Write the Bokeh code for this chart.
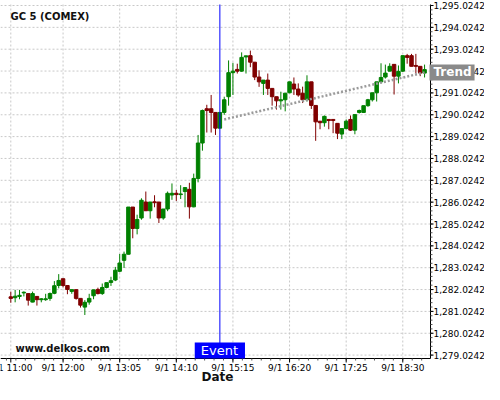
import math
import pandas as pd
from bokeh.plotting import figure
from bokeh.models import Range1d, Label, ColumnDataSource
from bokeh.core.properties import value
from bokeh.embed import file_html
from bokeh.resources import INLINE

# ---------------- data ----------------
symbol = "GC 5 (COMEX)"
watermark = "www.delkos.com"
start_time = "2014-09-01 11:00"
bar_minutes = 5

opens = [1281.69, 1281.65, 1281.71, 1281.87, 1281.84, 1281.45, 1281.71, 1281.56, 1281.56, 1281.62,
         1281.85, 1282.21, 1282.52, 1282.21, 1281.94, 1282.02, 1281.62, 1281.22, 1281.45, 1281.74,
         1282.03, 1281.84, 1282.12, 1282.35, 1282.46, 1282.86, 1283.36, 1283.64, 1285.80, 1284.82,
         1285.30, 1286.03, 1285.63, 1286.04, 1286.03, 1285.30, 1285.71, 1286.35, 1286.43, 1286.37,
         1286.51, 1286.61, 1285.81, 1287.11, 1288.73, 1290.30, 1290.30, 1290.13, 1289.41, 1290.13,
         1290.85, 1291.95, 1292.10, 1292.02, 1292.67, 1292.73, 1292.43, 1291.75, 1291.46, 1291.61,
         1291.23, 1290.85, 1290.66, 1290.71, 1291.03, 1291.43, 1291.20, 1291.01, 1290.71, 1291.53,
         1290.45, 1289.73, 1289.66, 1289.81, 1289.81, 1289.63, 1289.14, 1289.39, 1289.81, 1289.32,
         1290.13, 1290.13, 1290.44, 1290.71, 1291.03, 1291.53, 1291.75, 1292.02, 1292.33, 1291.79,
         1292.02, 1292.73, 1292.73, 1292.28, 1292.24, 1291.93]
highs = [1281.93, 1282.01, 1282.01, 1281.94, 1281.84, 1281.93, 1281.71, 1281.63, 1281.83, 1281.89,
         1282.41, 1282.73, 1282.52, 1282.21, 1282.02, 1282.02, 1281.62, 1281.54, 1281.83, 1282.01,
         1282.11, 1282.30, 1282.34, 1282.61, 1283.06, 1283.65, 1283.76, 1285.80, 1285.80, 1285.45,
         1286.20, 1286.51, 1286.03, 1286.34, 1286.03, 1285.71, 1286.51, 1286.88, 1286.58, 1286.80,
         1286.69, 1286.91, 1287.33, 1289.10, 1290.26, 1290.48, 1290.93, 1290.13, 1290.13, 1290.85,
         1292.51, 1292.40, 1292.36, 1292.88, 1292.72, 1292.96, 1292.43, 1292.06, 1291.61, 1291.91,
         1291.23, 1290.85, 1291.08, 1291.01, 1291.53, 1291.73, 1291.46, 1291.31, 1291.83, 1291.53,
         1290.45, 1289.73, 1289.99, 1289.81, 1289.81, 1289.63, 1289.39, 1289.81, 1289.99, 1290.03,
         1290.26, 1290.44, 1290.75, 1291.03, 1291.53, 1292.38, 1292.32, 1292.38, 1292.33, 1292.28,
         1292.73, 1292.81, 1292.81, 1292.81, 1292.24, 1292.32]
lows = [1281.42, 1281.44, 1281.58, 1281.71, 1281.29, 1281.44, 1281.29, 1281.44, 1281.51, 1281.51,
        1281.81, 1282.08, 1282.12, 1281.81, 1281.83, 1281.56, 1281.20, 1280.86, 1281.33, 1281.58,
        1281.80, 1281.78, 1282.08, 1282.19, 1282.41, 1282.82, 1283.01, 1283.63, 1284.37, 1284.55,
        1285.22, 1285.62, 1285.27, 1285.79, 1285.07, 1285.22, 1285.61, 1286.13, 1286.08, 1286.17,
        1285.79, 1285.27, 1285.79, 1286.93, 1288.38, 1289.21, 1289.21, 1289.10, 1289.41, 1290.02,
        1290.44, 1290.93, 1291.91, 1291.99, 1291.91, 1292.20, 1291.61, 1291.30, 1290.93, 1290.93,
        1290.44, 1290.26, 1290.26, 1290.18, 1291.01, 1290.93, 1290.85, 1290.56, 1290.63, 1290.29,
        1288.83, 1289.36, 1289.48, 1289.36, 1289.18, 1288.91, 1288.91, 1289.36, 1289.28, 1289.13,
        1290.08, 1290.11, 1290.39, 1290.63, 1290.63, 1291.48, 1291.68, 1292.02, 1290.95, 1291.46,
        1291.98, 1292.36, 1292.24, 1291.91, 1291.79, 1291.73]
closes = [1281.62, 1281.72, 1281.76, 1281.90, 1281.54, 1281.84, 1281.56, 1281.60, 1281.60, 1281.84,
          1282.20, 1282.44, 1282.21, 1282.03, 1282.02, 1281.62, 1281.31, 1281.44, 1281.62, 1282.01,
          1281.84, 1282.12, 1282.34, 1282.43, 1282.91, 1283.24, 1283.64, 1285.80, 1284.82, 1285.23,
          1286.11, 1285.63, 1286.03, 1286.00, 1285.30, 1285.71, 1286.43, 1286.43, 1286.37, 1286.40,
          1286.69, 1285.81, 1287.11, 1288.73, 1290.22, 1290.22, 1290.13, 1289.41, 1290.13, 1290.71,
          1291.95, 1292.02, 1292.02, 1292.65, 1292.72, 1292.43, 1291.75, 1291.53, 1291.61, 1291.23,
          1290.85, 1290.66, 1290.71, 1291.01, 1291.53, 1291.20, 1290.93, 1290.71, 1291.53, 1290.45,
          1289.70, 1289.66, 1289.95, 1289.76, 1289.76, 1289.18, 1289.39, 1289.73, 1289.32, 1290.03,
          1290.22, 1290.44, 1290.71, 1291.03, 1291.53, 1291.73, 1291.93, 1292.24, 1291.79, 1292.01,
          1292.73, 1292.65, 1292.24, 1292.24, 1291.93, 1292.09]

x_tick_times = ["11:00", "12:00", "13:05", "14:10", "15:15", "16:20", "17:25", "18:30"]
x_tick_labels = ["9/1 11:00", "9/1 12:00", "9/1 13:05", "9/1 14:10", "9/1 15:15",
                 "9/1 16:20", "9/1 17:25", "9/1 18:30"]
y_ticks = [1279.0242, 1280.0242, 1281.0242, 1282.0242, 1283.0242, 1284.0242, 1285.0242,
           1286.0242, 1287.0242, 1288.0242, 1289.0242, 1290.0242, 1291.0242, 1292.0242,
           1293.0242, 1294.0242, 1295.0242]
y_tick_labels = [f"{v:,.4f}" for v in y_ticks]

event_time = "2014-09-01 15:00"
event_text = "Event"
trend_times = ["2014-09-01 15:05", "2014-09-01 18:55"]
trend_values = [1289.81, 1291.96]
trend_text = "Trend"
x_title = "Date"

# ---------------- layout constants (pixels of the 484x384 canvas) ----------------
W, H = 484, 384
PX_PER_MIN = 0.8711      # horizontal scale
X_11 = 10.3              # pixel of 11:00
PX_PER_UNIT = 21.85      # vertical scale
Y_TOP_TICK = 5.0         # pixel of the top price tick
AXIS_X = 430.0           # pixel of the price axis line
AXIS_Y = 358.0           # pixel of the time axis line
TOP_Y = 4.0              # top end of axis / grid lines

MIN = 60000.0


def ms(ts):
    return pd.Timestamp(ts).value / 1e6


t0 = pd.Timestamp(start_time)
day = t0.strftime("%Y-%m-%d")
T0 = ms(t0)


def t_at(px):
    return T0 + (px - X_11) / PX_PER_MIN * MIN


y_hi = y_ticks[-1] + Y_TOP_TICK / PX_PER_UNIT


def p_at(py):
    return y_hi - py / PX_PER_UNIT


x_start, x_end = t_at(0), t_at(W)
axis_t = t_at(AXIS_X)
axis_p = p_at(AXIS_Y)
top_p = p_at(TOP_Y)

times = pd.date_range(t0, periods=len(opens), freq=f"{bar_minutes}min")
tms = [ms(t) for t in times]
major_x = [ms(f"{day} {t}") for t in x_tick_times]
minor_step = 65 / 6 * MIN
minor_x = [major_x[1] + k * minor_step for k in range(-8, 46)]
minor_x = [m for m in minor_x if x_start <= m <= axis_t]
minor_y = [y_ticks[0] + 0.2 * k for k in range(0, 81)]

p = figure(width=W, height=H, x_range=Range1d(x_start, x_end), y_range=Range1d(p_at(H), y_hi),
           x_axis_location=None, y_axis_location=None, min_border=0,
           output_backend="svg", toolbar_location=None)
p.outline_line_color = None
p.background_fill_color = "white"
p.border_fill_color = "white"
p.xgrid.visible = False
p.ygrid.visible = False

font = value("DejaVu Sans")
GRID = dict(line_color="#c8c8c8", line_dash="2 2", line_width=1)

# grid
p.segment(x0=[x_start] * len(y_ticks), x1=[axis_t] * len(y_ticks), y0=y_ticks, y1=y_ticks, **GRID)
p.segment(x0=major_x, x1=major_x, y0=[axis_p] * len(major_x), y1=[top_p] * len(major_x), **GRID)

# candles
colors = ["#008000" if c >= o else "#800000" for o, c in zip(opens, closes)]
src = ColumnDataSource(dict(
    t=tms, h=highs, l=lows,
    top=[max(o, c) for o, c in zip(opens, closes)],
    bottom=[min(o, c) for o, c in zip(opens, closes)],
    color=colors))
p.segment(x0="t", y0="h", x1="t", y1="l", line_color="color", line_width=1, source=src)
p.vbar(x="t", width=4 * MIN, top="top", bottom="bottom", fill_color="color",
       line_color="color", line_width=1, source=src)

# trend line
p.line([ms(t) for t in trend_times], trend_values, line_color="#9a9a9a",
       line_width=2.5, line_dash="2 2")

# event line
ev = ms(event_time)
p.segment(x0=[ev], x1=[ev], y0=[axis_p], y1=[top_p], line_color="#0000ff", line_width=1)

# axes
p.segment(x0=[x_start, axis_t], x1=[axis_t, axis_t], y0=[axis_p, axis_p], y1=[axis_p, top_p],
          line_color="black", line_width=1)
p.ray(x=[axis_t] * len(minor_y), y=minor_y, length=2, length_units="screen", angle=0,
      line_color="#555555", line_width=1)
p.ray(x=[axis_t] * len(y_ticks), y=y_ticks, length=3, length_units="screen", angle=0,
      line_color="black", line_width=1)
p.ray(x=minor_x, y=[axis_p] * len(minor_x), length=2, length_units="screen", angle=-math.pi / 2,
      line_color="#555555", line_width=1)
p.ray(x=major_x, y=[axis_p] * len(major_x), length=4, length_units="screen", angle=-math.pi / 2,
      line_color="black", line_width=1)
p.text(x=[axis_t] * len(y_ticks), y=y_ticks, text=y_tick_labels, x_offset=3,
       text_align="left", text_baseline="middle", text_font=font, text_font_size="9px",
       text_color="black")
p.text(x=major_x, y=[axis_p] * len(major_x), text=x_tick_labels, y_offset=4,
       text_align="center", text_baseline="top", text_font=font, text_font_size="9px",
       text_color="black")

# annotations (middle baselines; y measured up from the canvas bottom)
p.add_layout(Label(x=10, y=H - 15.8, x_units="screen", y_units="screen", text=symbol,
                   text_font="DejaVu Sans", text_font_style="bold", text_font_size="10px",
                   text_color="#111111", text_baseline="middle"))
p.add_layout(Label(x=15, y=H - (AXIS_Y - 10.5), x_units="screen", y_units="screen",
                   text=watermark, text_font="DejaVu Sans", text_font_style="bold",
                   text_font_size="10px", text_color="#111111", text_baseline="middle"))
p.add_layout(Label(x=ev, y=H - (AXIS_Y - 8), x_units="data", y_units="screen", text=event_text,
                   text_font="DejaVu Sans", text_font_size="13px", text_color="white",
                   text_align="center", text_baseline="middle",
                   background_fill_color="#0000ff", background_fill_alpha=1.0,
                   padding=dict(left=6, right=7, top=0, bottom=1)))
p.add_layout(Label(x=AXIS_X - 1, y=trend_values[-1], x_units="screen", y_units="data",
                   text=trend_text, text_font="DejaVu Sans", text_font_style="bold",
                   text_font_size="12px", text_color="white", text_align="left",
                   text_baseline="middle", background_fill_color="#8a8a8a",
                   background_fill_alpha=1.0, padding=dict(left=4, right=3, top=1, bottom=1)))
p.add_layout(Label(x=217, y=7.3, x_units="screen", y_units="screen", text=x_title,
                   text_font="DejaVu Sans", text_font_style="bold", text_font_size="12px",
                   text_color="#111111", text_align="center", text_baseline="middle"))

open("out.html", "w").write(file_html(p, INLINE))
